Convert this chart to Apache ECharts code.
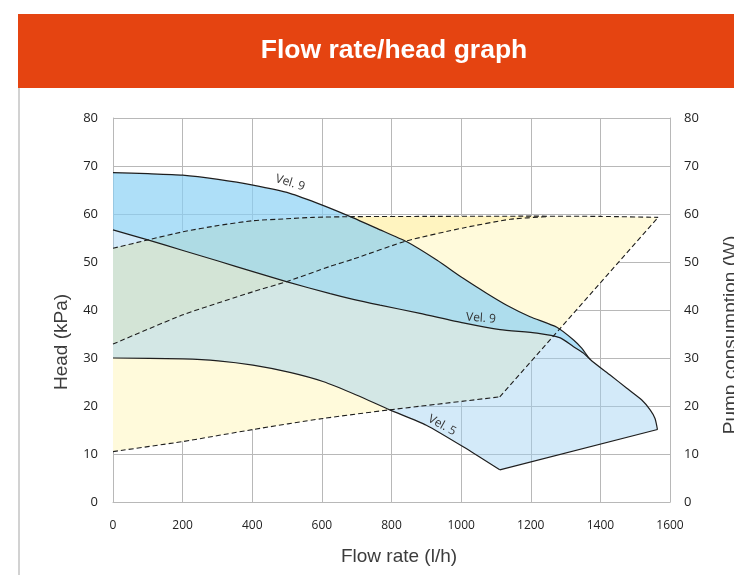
<!DOCTYPE html>
<html><head><meta charset="utf-8">
<script src="https://cdn.jsdelivr.net/npm/echarts@6/dist/echarts.min.js"></script>
<style>html,body{margin:0;padding:0;background:#fff;}#c{width:734px;height:575px;}</style>
</head><body><div id="c"></div>
<script>
// ---- tick labels ----
const xTickLabels = ['0','200','400','600','800','1000','1200','1400','1600'];
const yTickLabels = ['0','10','20','30','40','50','60','70','80'];

// ---- head curves [flow l/h, head kPa] ----
const vel9Max = [[0,68.6],[100,68.4],[200,68.1],[302,67.2],[402,66.0],[508,64.3],[603,61.8],[690,59.2],[758,57.0],[844,54.2],[930,50.4],[1006,46.6],[1073,43.5],[1131,41.0],[1198,38.6],[1275,36.4],[1323,33.75],[1347,32.0],[1371,29.7],[1428,26.45],[1476,23.7],[1519,21.25],[1543,19.2],[1557,17.4],[1564,15.1]];
const vel9Min = [[0,56.7],[100,54.6],[201,52.4],[302,50.2],[402,48.0],[498,45.9],[624,43.4],[690,42.2],[767,41.0],[882,39.3],[1006,37.3],[1112,35.9],[1218,35.2],[1285,34.2],[1322,32.4],[1350,31.1],[1371,29.7]];
const vel5 = [[0,30.0],[201,29.8],[302,29.4],[402,28.5],[508,27.0],[603,25.1],[699,22.3],[795,19.2],[900,16.0],[1006,11.5],[1111,6.7]];
const vel5ToEnd = [[1111,6.7],[1564,15.1]];

// ---- pump consumption curves [flow l/h, W] ----
const powerHigh = [[0,52.85],[100,54.6],[201,56.3],[302,57.6],[402,58.6],[498,59.0],[575,59.3],[690,59.45],[900,59.5],[1200,59.55],[1400,59.5],[1566,59.3]];
const powerMid = [[0,32.9],[201,39.0],[402,43.8],[498,45.9],[624,49.1],[690,50.6],[844,54.4],[1006,57.1],[1141,58.9],[1246,59.45]];
const powerLow = [[0,10.5],[201,12.6],[402,15.1],[603,17.4],[795,19.2],[1111,21.9]];
const powerLowSteep = [[1111,21.9],[1566,59.3]];

// ---- curve labels [flow, head, text, angle deg] ----
const curveLabels = [[509,66.5,'Vel. 9',17],[1057,38.3,'Vel. 9',4],[945,16.0,'Vel. 5',29]];

// ---- derived polygons ----
const polyYellowOuter = powerHigh.concat(powerLow.slice().reverse());
const polyYellowInner = powerHigh.filter(p => p[0] <= 1246).concat(powerMid.slice().reverse());
const polyBlueLight = vel9Max.concat(vel5.slice().reverse());
const polyBlueDark = vel9Max.filter(p => p[0] <= 1371).concat(vel9Min.slice().reverse());

function polySeries(points, fill, z) {
  return {
    type: 'custom', coordinateSystem: 'cartesian2d', z: z, silent: true,
    data: points, encode: { x: 0, y: 1 },
    renderItem: function (params, api) {
      if (params.dataIndex !== 0) return null;
      return { type: 'polygon', shape: { points: points.map(p => api.coord(p)) }, style: { fill: fill } };
    }
  };
}
function lineSeries(points, dashed, z, yIdx) {
  return {
    type: 'line', data: points, showSymbol: false, smooth: 0.2, silent: true, z: z,
    yAxisIndex: yIdx || 0,
    lineStyle: { color: '#1e1e1e', width: dashed ? 1.1 : 1.2, type: dashed ? [5, 3] : 'solid' }
  };
}
function straightSeries(points, dashed, z, yIdx) {
  const s = lineSeries(points, dashed, z, yIdx); s.smooth = false; return s;
}

const grid = '#b8b8b8';
const chart = echarts.init(document.getElementById('c'), null, { renderer: 'canvas' });
chart.setOption({
  animation: false,
  backgroundColor: '#ffffff',
  grid: { left: 113, right: 64, top: 118, bottom: 73, containLabel: false, outerBoundsMode: 'none' },
  xAxis: {
    type: 'value', min: 0, max: 1600, interval: 200,
    axisLine: { show: true, lineStyle: { color: grid } }, axisTick: { show: false },
    splitLine: { show: true, lineStyle: { color: grid, width: 1 } },
    axisLabel: { color: '#222', fontSize: 12, margin: 18, fontFamily: 'Open Sans',
      formatter: v => xTickLabels[Math.round(v / 200)] }
  },
  yAxis: [
    { type: 'value', min: 0, max: 80, interval: 10, position: 'left',
      axisLine: { show: true, lineStyle: { color: grid } }, axisTick: { show: false },
      splitLine: { show: true, lineStyle: { color: grid, width: 1 } },
      axisLabel: { color: '#222', fontSize: 13, margin: 15, fontFamily: 'Open Sans',
        formatter: v => yTickLabels[Math.round(v / 10)] } },
    { type: 'value', min: 0, max: 80, interval: 10, position: 'right',
      axisLine: { show: true, lineStyle: { color: grid } }, axisTick: { show: false },
      splitLine: { show: false },
      axisLabel: { color: '#222', fontSize: 13, margin: 14, fontFamily: 'Open Sans',
        formatter: v => yTickLabels[Math.round(v / 10)] } }
  ],
  graphic: [
    { type: 'rect', left: 18, top: 14, shape: { width: 716, height: 74 }, style: { fill: '#e54411' }, z: 10 },
    { type: 'text', x: 394, y: 51, z: 11, style: { text: 'Flow rate/head graph', fill: '#ffffff',
      font: 'bold 26.5px "Liberation Sans"', align: 'center', verticalAlign: 'middle' } },
    { type: 'line', shape: { x1: 19, y1: 88, x2: 19, y2: 575 }, style: { stroke: '#d2d2d2', lineWidth: 2 }, z: 10 },
    { type: 'text', x: 62, y: 342, rotation: Math.PI / 2, z: 11, style: { text: 'Head (kPa)', fill: '#3c3c3c',
      font: '19px "Liberation Sans"', align: 'center', verticalAlign: 'middle' } },
    { type: 'text', x: 731, y: 335, rotation: Math.PI / 2, z: 11, style: { text: 'Pump consumption (W)', fill: '#3c3c3c',
      font: '19px "Liberation Sans"', align: 'center', verticalAlign: 'middle' } },
    { type: 'text', x: 399, y: 557, z: 11, style: { text: 'Flow rate (l/h)', fill: '#3c3c3c',
      font: '19px "Liberation Sans"', align: 'center', verticalAlign: 'middle' } }
  ],
  series: [
    polySeries(polyYellowOuter, '#fffadb', 1),
    polySeries(polyYellowInner, '#fff4c0', 2),
    polySeries(polyBlueLight, 'rgba(158,209,242,0.45)', 3),
    polySeries(polyBlueDark, 'rgba(123,208,247,0.42)', 4),
    lineSeries(powerHigh, true, 5, 1),
    lineSeries(powerMid, true, 5, 1),
    lineSeries(powerLow, true, 5, 1),
    straightSeries(powerLowSteep, true, 5, 1),
    lineSeries(vel9Max, false, 6),
    lineSeries(vel9Min, false, 6),
    lineSeries(vel5, false, 6),
    straightSeries(vel5ToEnd, false, 6),
    {
      type: 'custom', coordinateSystem: 'cartesian2d', z: 7, silent: true,
      data: curveLabels.map(l => [l[0], l[1], l[3]]), encode: { x: 0, y: 1 },
      renderItem: function (params, api) {
        const p = api.coord([api.value(0), api.value(1)]);
        return { type: 'text', x: p[0], y: p[1], rotation: -api.value(2) * Math.PI / 180,
          style: { text: curveLabels[params.dataIndex][2], fill: '#333', font: '12px "Open Sans"',
            align: 'center', verticalAlign: 'middle' } };
      }
    }
  ]
});
</script></body></html>
